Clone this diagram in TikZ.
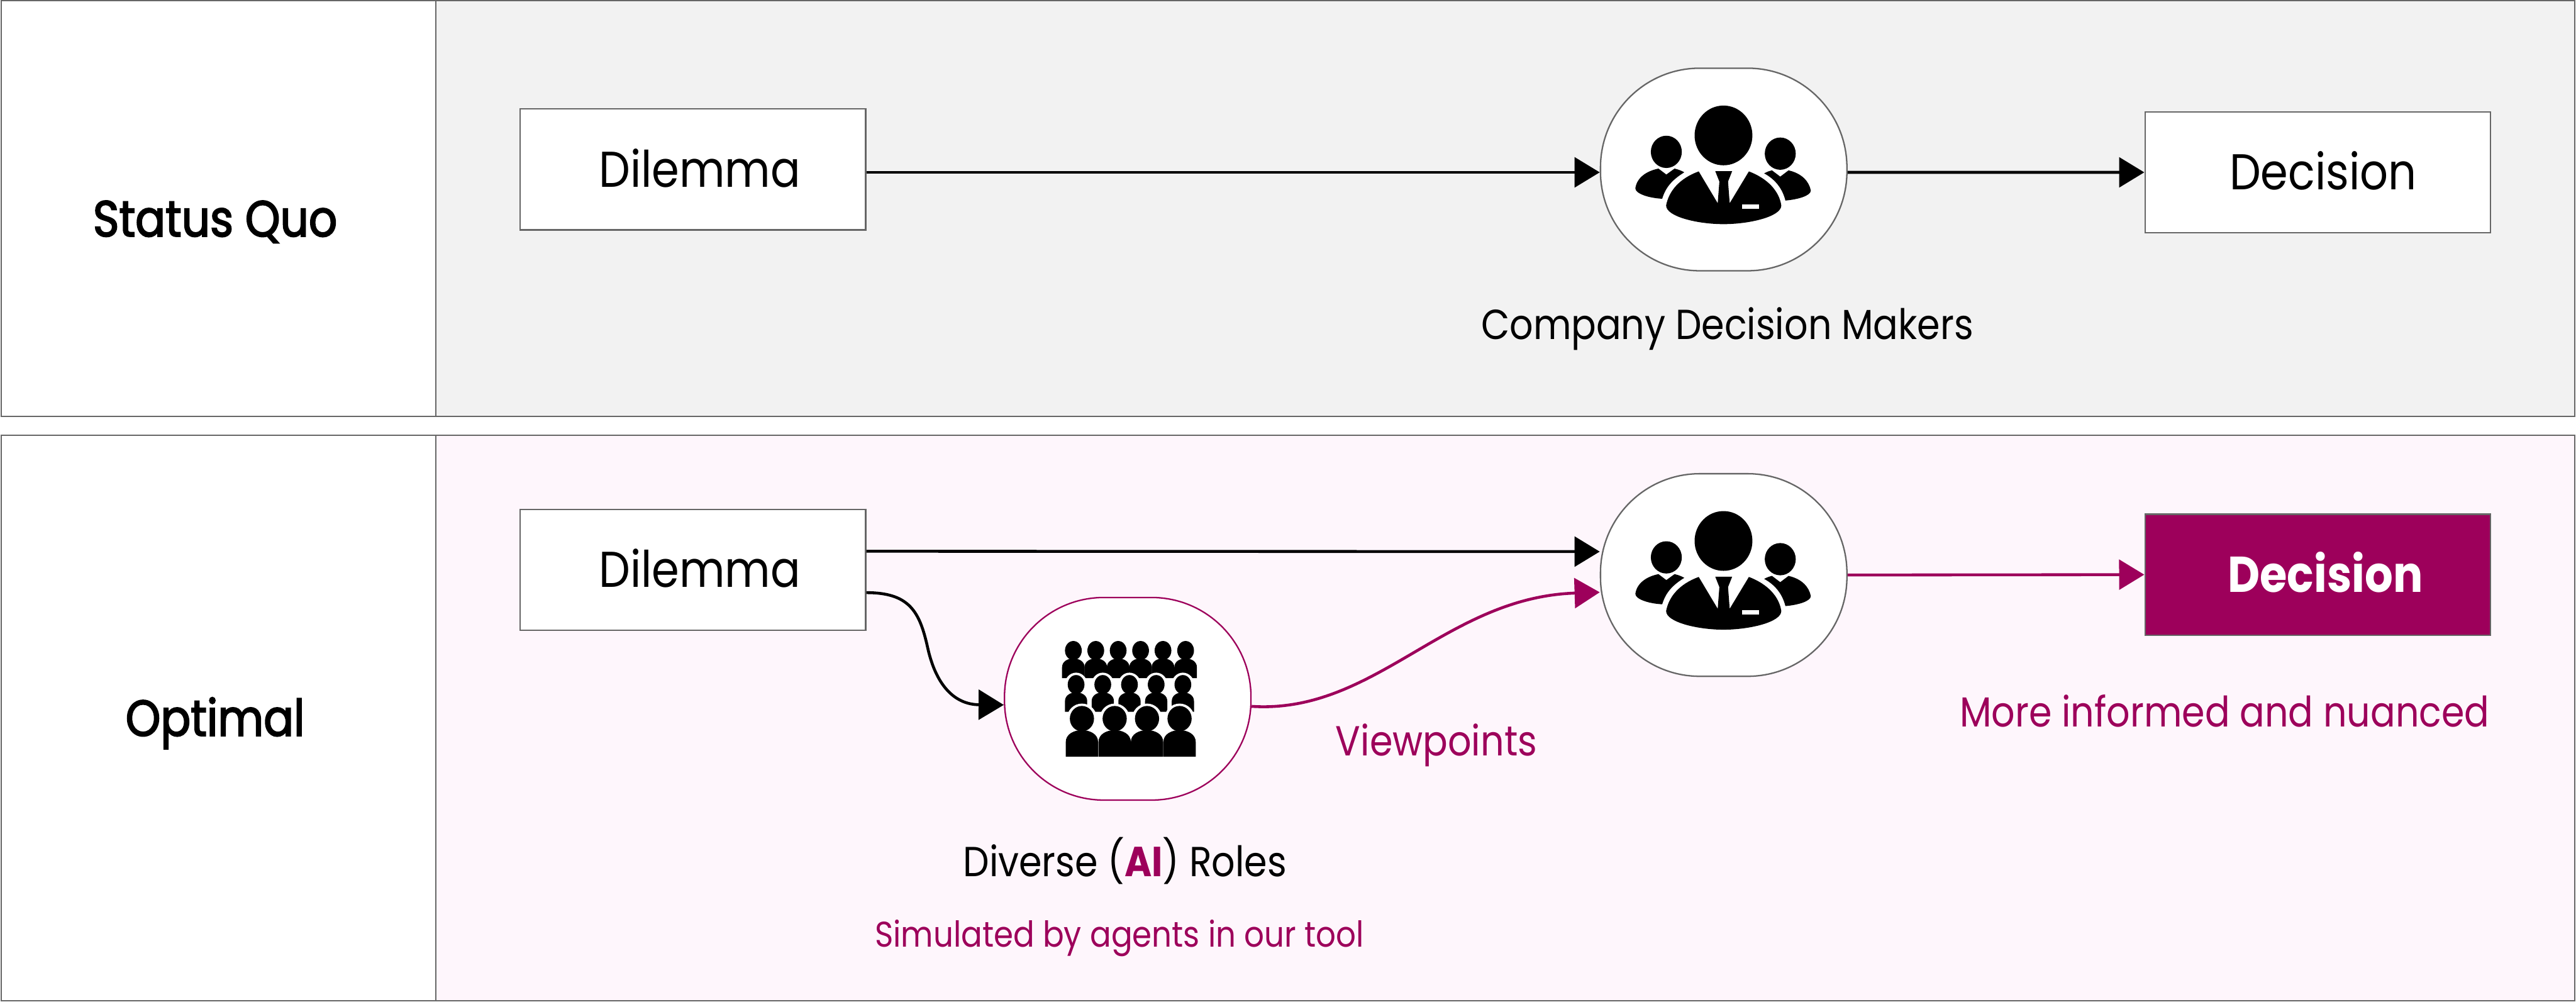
\documentclass[tikz,border=0pt]{standalone}
\usepackage{fontspec}
\setmainfont[FakeStretch=0.88]{Poppins}
\newfontfamily\rowfont[FakeStretch=0.88,FakeBold=2.5]{Poppins}
\usetikzlibrary{arrows.meta,calc}
\definecolor{softgray}{RGB}{242,242,242}
\definecolor{softpink}{RGB}{254,246,252}
\definecolor{accent}{RGB}{157,0,91}
\definecolor{edge}{RGB}{102,102,102}
\newcommand{\crowdrow}[7]{%
	\foreach \px in {#1}{
		\fill[white] (\px,#2) ellipse [x radius=#3+15,y radius=#4+16];
		\fill (\px,#2) ellipse [x radius=#3,y radius=#4];
		\fill[shift={(\px,0)}] ({-#7},#6) -- ({-#7},{#5+0.45*(#6-#5)})
		.. controls ({-#7},{#5+0.15*(#6-#5)}) and ({-0.5*#7},#5) .. (0,#5)
		.. controls ({0.5*#7},#5) and (#7,{#5+0.15*(#6-#5)}) .. (#7,{#5+0.45*(#6-#5)})
		-- (#7,#6) -- cycle;
	}%
}
\tikzset{
	flow/.style={-{Triangle[length=0.7cm,width=0.83cm]},line width=0.08cm,draw=black},
	flowhi/.style={-{Triangle[length=0.7cm,width=0.83cm]},line width=0.08cm,draw=accent},
	rowbox/.style={draw=edge,line width=0.04cm,inner sep=0pt},
	stepbox/.style={draw=edge,line width=0.04cm,fill=white,minimum width=9.6cm,minimum height=3.36cm,
		inner sep=0pt,text height=0.97cm,text depth=0pt,font=\fontsize{39.8}{47}\selectfont},
	roundbox/.style={draw=edge,line width=0.04cm,fill=white,minimum width=6.85cm,minimum height=5.63cm,
		rounded corners=2.76cm,inner sep=0pt},
	caption/.style={anchor=base,inner sep=0pt,font=\fontsize{33.2}{40}\selectfont},
	rowlabel/.style={anchor=base,inner sep=0pt,font=\rowfont\fontsize{40}{48}\selectfont},
	bossicon/.pic={
		\begin{scope}[x=0.00574cm,y=-0.004146cm,shift={(-856,-774)}]
			\fill (855,546) ellipse [x radius=140,y radius=200];
			\fill (578,656) ellipse [x radius=75,y radius=108];
			\fill (1130,668) ellipse [x radius=75,y radius=108];
			\fill (735,787) -- (827,1000) -- (835,855) -- (815,785) -- (897,785) -- (877,855) -- (885,1000) -- (978,787)
			.. controls (1070,835) and (1125,920) .. (1135,1015)
			.. controls (1135,1090) and (980,1140) .. (855,1140)
			.. controls (730,1140) and (577,1090) .. (577,1015)
			.. controls (590,920) and (640,835) .. (735,787) -- cycle;
			\fill[white] (946,1008) rectangle (1028,1038);
			\fill (540,768) -- (578,808) -- (618,768)
			.. controls (640,775) and (655,785) .. (665,793)
			.. controls (610,840) and (575,890) .. (558,970)
			.. controls (490,965) and (428,935) .. (428,900)
			.. controls (435,830) and (480,785) .. (540,768) -- cycle;
			\fill (1090,780) -- (1130,822) -- (1170,780)
			.. controls (1235,800) and (1270,855) .. (1278,915)
			.. controls (1278,950) and (1215,975) .. (1155,982)
			.. controls (1140,900) and (1105,840) .. (1052,800)
			.. controls (1065,790) and (1075,785) .. (1090,780) -- cycle;
		\end{scope}
	},
	crowdicon/.pic={
		\begin{scope}[x=0.00542cm,y=-0.004146cm,shift={(-802,-825)}]
			\crowdrow{523,638,753,868,983,1099}{502}{43}{64}{555}{687}{58}
			\crowdrow{537,674,811,948,1085}{730}{43}{64}{782}{912}{57}
			\crowdrow{567,735,901,1068}{958}{62}{85}{1035}{1212}{83}
		\end{scope}
	},
}
\begin{document}
\begin{tikzpicture}
	\useasboundingbox (0,0) rectangle (71.6,-27.84);
	
	\node[rowbox,fill=softgray,minimum width=59.45cm,minimum height=11.55cm] (statuspanel) at (41.835,-5.795) {};
	\node[rowbox,fill=white,minimum width=12.08cm,minimum height=11.55cm] (statushead) at (6.07,-5.795) {};
	\node[rowbox,fill=softpink,minimum width=59.45cm,minimum height=15.71cm] (optimalpanel) at (41.835,-19.955) {};
	\node[rowbox,fill=white,minimum width=12.08cm,minimum height=15.71cm] (optimalhead) at (6.07,-19.955) {};
	\node[rowlabel] (statuslabel) at (5.98,-6.57) {Status Quo};
	\node[rowlabel] (optimallabel) at (5.98,-20.45) {Optimal};
	
	% status quo row
	\node[stepbox] (dilemmatop) at (19.26,-4.71) {\hspace*{0.38cm}Dilemma};
	\node[roundbox] (bosstop) at (47.91,-4.71) {};
	\pic at (bosstop.center) {bossicon};
	\node[stepbox] (decisiontop) at (64.42,-4.79) {\hspace*{0.3cm}Decision};
	\node[caption] (makers) at (48.01,-9.43) {Company Decision Makers};
	\draw[flow] ($(dilemmatop.east)+(0,-0.08)$) -- ($(bosstop.west)+(0,-0.08)$);
	\draw[flow] ($(bosstop.east)+(0,-0.08)$) -- (decisiontop.west);
	
	% optimal row
	\node[stepbox] (dilemmalow) at (19.26,-15.84) {\hspace*{0.38cm}Dilemma};
	\node[roundbox,draw=accent] (crowd) at (31.345,-19.42) {};
	\pic at (crowd.center) {crowdicon};
	\node[roundbox] (bosslow) at (47.91,-15.98) {};
	\pic at (bosslow.center) {bossicon};
	\node[stepbox,fill=accent,text=white] (decisionlow) at (64.42,-15.97) {\hspace*{0.42cm}\textbf{Decision}};
	\node[caption] (roles) at (31.27,-24.36) {Diverse (\textcolor{accent}{\textbf{AI}}) Roles};
	\node[caption,text=accent,font=\fontsize{28.2}{34}\selectfont] (agents) at (31.115,-26.31) {Simulated by agents in our tool};
	\node[caption,text=accent] (views) at (39.925,-21.0) {Viewpoints};
	\node[caption,text=accent] (nuanced) at (61.835,-20.19) {More informed and nuanced};
	
	\draw[flow] ($(dilemmalow.east)+(0,0.52)$) -- ($(bosslow.west)+(0,0.65)$);
	\draw[flow] ($(dilemmalow.east)+(0,-0.63)$) .. controls +(1.2,0) and (25.56,-17.0) .. (25.78,-17.98)
	.. controls (26.0,-19.0) and (26.5,-19.58) .. ($(crowd.west)+(0,-0.17)$);
	\draw[flowhi] ($(crowd.east)+(0,-0.21)$) .. controls +(3.43,-0.22) and +(-4.3,-0.14) .. ($(bosslow.west)+(0,-0.48)$);
	\draw[flowhi] (bosslow.east) -- (decisionlow.west);
\end{tikzpicture}
\end{document}
